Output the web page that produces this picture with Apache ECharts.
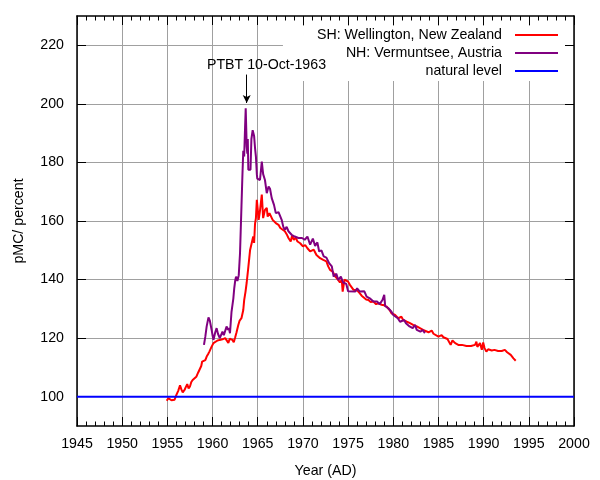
<!DOCTYPE html>
<html>
<head>
<meta charset="utf-8">
<script src="https://cdn.jsdelivr.net/npm/echarts@6/dist/echarts.min.js"></script>
<style>
html,body{margin:0;padding:0;background:#fff;}
#chart{width:600px;height:480px;}
</style>
</head>
<body>
<div id="chart"></div>
<script>
// ---- data ----
var seriesNames = ['SH: Wellington, New Zealand', 'NH: Vermuntsee, Austria', 'natural level'];

var shYears = [1954.93,1955.1,1955.3,1955.45,1955.6,1955.8,1956.0,1956.2,1956.4,1956.55,1956.7,1956.9,1957.0,1957.2,1957.35,1957.5,1957.65,1957.8,1958.0,1958.2,1958.4,1958.6,1958.75,1958.85,1959.0,1959.2,1959.35,1959.5,1959.65,1959.8,1959.9,1960.1,1960.3,1960.55,1960.8,1961.1,1961.4,1961.6,1961.75,1961.9,1962.0,1962.2,1962.35,1962.5,1962.65,1962.85,1963.0,1963.2,1963.4,1963.5,1963.65,1963.78,1963.95,1964.15,1964.3,1964.5,1964.6,1964.7,1964.8,1964.9,1965.0,1965.1,1965.25,1965.45,1965.6,1965.8,1966.0,1966.1,1966.3,1966.5,1966.65,1966.85,1967.0,1967.3,1967.5,1967.65,1968.0,1968.2,1968.4,1968.65,1968.8,1969.0,1969.2,1969.4,1969.7,1970.0,1970.25,1970.5,1970.8,1971.0,1971.2,1971.5,1971.7,1971.9,1972.25,1972.6,1972.8,1973.0,1973.3,1973.6,1973.9,1974.1,1974.3,1974.4,1974.6,1974.8,1975.0,1975.2,1975.4,1975.6,1975.8,1976.0,1976.3,1976.5,1976.7,1977.0,1977.25,1977.5,1977.8,1978.1,1978.35,1978.7,1979.0,1979.25,1979.6,1979.8,1980.0,1980.2,1980.4,1980.55,1980.75,1980.9,1981.1,1981.3,1981.5,1981.65,1981.85,1982.05,1982.2,1982.4,1982.6,1982.95,1983.3,1983.5,1983.9,1984.1,1984.25,1984.45,1984.6,1985.0,1985.2,1985.35,1985.55,1985.7,1986.0,1986.2,1986.35,1986.55,1986.7,1986.85,1987.0,1987.2,1987.4,1987.6,1988.1,1988.6,1989.05,1989.2,1989.3,1989.4,1989.6,1989.8,1989.95,1990.1,1990.3,1990.5,1990.7,1990.9,1991.05,1991.2,1991.4,1991.6,1991.8,1992.0,1992.2,1992.35,1992.5,1992.6,1992.75,1993.0,1993.15,1993.3,1993.55];
var shValues = [98.6,99.5,100.0,98.8,99.4,99.0,100.6,102.0,103.9,102.5,101.5,102.3,103.0,104.3,102.8,103.5,105.0,105.7,105.2,106.8,108.2,108.0,110.5,112.0,111.5,112.5,113.7,114.5,115.4,116.0,117.1,118.3,118.8,119.2,119.4,119.6,120.0,119.6,118.4,119.8,120.3,119.4,118.6,120.2,121.9,124.5,126.0,126.8,129.6,133.0,135.9,139.0,143.9,150.0,150.5,154.7,152.5,159.0,161.0,167.2,164.0,160.4,163.5,169.0,161.0,163.8,164.5,161.5,162.7,163.0,160.4,160.8,159.3,158.7,157.6,157.0,156.5,155.5,154.2,153.0,155.0,153.6,154.3,153.0,152.4,151.3,151.8,150.7,149.6,150.0,150.2,148.4,148.9,147.3,146.7,146.2,144.5,143.3,142.7,141.0,139.9,139.0,139.9,135.9,140.0,139.5,139.3,138.2,137.6,136.5,135.9,136.3,135.3,134.5,134.2,133.2,133.0,132.3,132.5,131.6,131.9,131.4,131.2,130.8,129.6,128.5,128.5,127.9,127.9,126.8,127.3,127.3,126.2,126.2,125.6,125.6,125.1,125.1,124.5,124.5,124.0,123.4,122.8,122.8,122.0,122.0,122.6,121.5,121.5,120.5,120.4,121.0,120.3,120.0,119.7,119.4,117.7,119.2,118.8,118.3,118.9,117.7,117.4,117.7,117.3,117.3,117.7,118.8,117.0,116.6,118.3,116.0,118.5,116.6,115.4,116.2,116.2,115.8,115.4,116.0,116.0,115.6,115.0,115.6,115.4,116.0,116.2,115.2,114.9,114.3,113.9,113.1,112.3];

var nhYears = [1959.05,1959.2,1959.35,1959.55,1959.7,1959.9,1960.0,1960.1,1960.3,1960.45,1960.6,1960.8,1960.95,1961.1,1961.25,1961.4,1961.55,1961.7,1961.8,1961.93,1962.1,1962.3,1962.4,1962.5,1962.6,1962.75,1962.9,1963.04,1963.2,1963.3,1963.4,1963.5,1963.6,1963.67,1963.78,1963.85,1963.9,1963.96,1964.1,1964.2,1964.3,1964.44,1964.6,1964.7,1964.8,1964.9,1964.95,1965.1,1965.25,1965.45,1965.6,1965.8,1966.0,1966.2,1966.36,1966.55,1966.8,1967.0,1967.1,1967.3,1967.5,1967.65,1967.83,1968.0,1968.2,1968.4,1968.57,1968.75,1968.94,1969.1,1969.3,1969.5,1969.9,1970.2,1970.5,1970.8,1971.1,1971.35,1971.6,1971.8,1972.05,1972.3,1972.6,1972.9,1973.2,1973.4,1973.7,1973.9,1974.2,1974.45,1974.8,1975.0,1975.8,1976.0,1976.3,1976.5,1976.8,1977.05,1977.4,1977.8,1978.2,1978.5,1978.8,1979.0,1979.1,1979.3,1979.45,1979.65,1979.8,1980.0,1980.2,1980.5,1980.75,1980.9,1981.2,1981.4,1981.5,1981.8,1982.15,1982.4,1982.6,1982.8,1983.0,1983.25,1983.5];
var nhValues = [117.7,120.5,124.0,127.1,126.0,122.8,121.0,119.4,122.0,123.4,121.5,120.0,120.5,122.2,121.0,120.5,124.0,122.8,123.5,121.7,129.0,133.5,137.0,139.5,141.0,139.5,141.5,149.0,165.0,175.0,184.0,182.0,192.0,198.5,185.5,183.0,188.0,177.5,177.0,177.5,188.0,191.0,189.0,185.0,182.0,176.0,174.5,175.0,174.0,180.3,176.0,174.0,169.5,171.8,171.0,167.8,165.5,162.7,162.7,163.0,162.5,160.4,158.0,157.0,158.0,156.5,157.0,155.3,154.7,154.7,155.0,154.2,154.2,153.6,154.7,151.9,154.0,151.5,152.7,149.6,150.0,147.9,147.5,145.6,144.5,141.0,142.0,139.9,141.0,139.0,138.5,136.0,135.9,137.0,135.9,135.3,136.0,134.2,133.6,132.5,132.5,131.6,133.0,134.8,131.0,130.8,130.2,129.6,129.0,127.9,127.9,126.8,125.6,126.2,126.2,125.1,124.5,124.0,123.4,124.5,122.8,122.2,122.2,122.8,121.7];

var naturalYears = [1945, 2000];
var naturalValues = [100, 100];

var yTickValues = [100, 120, 140, 160, 180, 200, 220];
var annotationText = 'PTBT 10-Oct-1963';
var annotationYear = 1963.78;   // 10 Oct 1963
var arrowFrom = 210;            // pMC at arrow tail
var arrowTo = 200.3;            // pMC at arrow head
var labelYear = 1965.97;        // centre of the annotation text
var labelValue = 213.1;

// ---- chart ----
function pairs(xs, ys) { return xs.map(function (x, i) { return [x, ys[i]]; }); }

var FONT = "'Liberation Sans', Arial, sans-serif";
var FS = 14.2;
var gridColor = '#a0a0a0';

var chart = echarts.init(document.getElementById('chart'), null, { renderer: 'canvas' });

var xCommon = {
  type: 'value', min: 1945, max: 2000, interval: 5,
  axisLine: { show: true, onZero: false, lineStyle: { color: '#000', width: 1.5 } },
  axisTick: { show: true, inside: true, length: 9, lineStyle: { color: '#000', width: 1 } },
  minorTick: { show: true, splitNumber: 5, length: 4.5, lineStyle: { color: '#000', width: 1 } },
  minorSplitLine: { show: false }
};
var yCommon = {
  type: 'value', min: 90, max: 230,
  axisLine: { show: true, onZero: false, lineStyle: { color: '#000', width: 1.5 } },
  axisTick: { show: true, inside: true, length: 9, customValues: yTickValues, lineStyle: { color: '#000', width: 1 } }
};

var option = {
  animation: false,
  backgroundColor: '#fff',
  textStyle: { fontFamily: FONT },
  grid: { left: 77, right: 26, top: 16, bottom: 54, containLabel: false, outerBoundsMode: 'none' },
  legend: {
    orient: 'vertical',
    align: 'right',
    right: 35,
    top: 26,
    padding: [0, 7, 1, 34],
    itemGap: 0,
    itemWidth: 43,
    itemHeight: 2,
    icon: 'rect',
    backgroundColor: '#fff',
    z: 4,
    textStyle: { fontFamily: FONT, fontSize: FS, color: '#000', lineHeight: 18, padding: [0, 8, 0, 0] },
    data: seriesNames
  },
  xAxis: [
    Object.assign({}, xCommon, {
      position: 'bottom',
      name: 'Year (AD)', nameLocation: 'middle', nameGap: 38,
      nameTextStyle: { fontFamily: FONT, fontSize: FS, color: '#000' },
      axisLabel: { show: true, margin: 11, fontFamily: FONT, fontSize: FS, color: '#000',
        showMinLabel: true, showMaxLabel: true,
        formatter: function (v) { return String(Math.round(v)); } },
      splitLine: { show: true, lineStyle: { color: gridColor, width: 1 } }
    }),
    Object.assign({}, xCommon, {
      position: 'top',
      axisLabel: { show: false },
      splitLine: { show: false }
    })
  ],
  yAxis: [
    Object.assign({}, yCommon, {
      position: 'left',
      name: 'pMC/ percent', nameLocation: 'middle', nameGap: 51, nameRotate: 90,
      nameTextStyle: { fontFamily: FONT, fontSize: FS, color: '#000' },
      axisLabel: { show: true, margin: 13, fontFamily: FONT, fontSize: FS, color: '#000', customValues: yTickValues },
      splitLine: { show: true, lineStyle: { color: gridColor, width: 1 } }
    }),
    Object.assign({}, yCommon, {
      position: 'right',
      axisLabel: { show: false },
      splitLine: { show: false }
    })
  ],
  series: [
    {
      name: seriesNames[0], type: 'line', xAxisIndex: 0, yAxisIndex: 0,
      data: pairs(shYears, shValues), showSymbol: false, symbol: 'none',
      lineStyle: { color: '#ff0000', width: 2 }, itemStyle: { color: '#ff0000' }, z: 2
    },
    {
      name: seriesNames[1], type: 'line', xAxisIndex: 0, yAxisIndex: 0,
      data: pairs(nhYears, nhValues), showSymbol: false, symbol: 'none',
      lineStyle: { color: '#800080', width: 2 }, itemStyle: { color: '#800080' }, z: 3,
      markLine: {
        silent: true, animation: false,
        symbol: ['none', 'arrow'], symbolSize: [6, 8],
        lineStyle: { color: '#000', width: 1, type: 'solid' },
        label: { show: false },
        data: [[{ coord: [annotationYear, arrowFrom] }, { coord: [annotationYear, arrowTo] }]]
      },
      markPoint: {
        silent: true, animation: false,
        symbol: 'circle', symbolSize: 0,
        label: { show: true, position: 'inside', formatter: annotationText,
          fontFamily: FONT, fontSize: FS, color: '#000' },
        data: [{ coord: [labelYear, labelValue] }]
      }
    },
    {
      name: seriesNames[2], type: 'line', xAxisIndex: 0, yAxisIndex: 0,
      data: pairs(naturalYears, naturalValues), showSymbol: false, symbol: 'none',
      lineStyle: { color: '#0000ff', width: 2 }, itemStyle: { color: '#0000ff' }, z: 3
    }
  ]
};
chart.setOption(option);
</script>
</body>
</html>
